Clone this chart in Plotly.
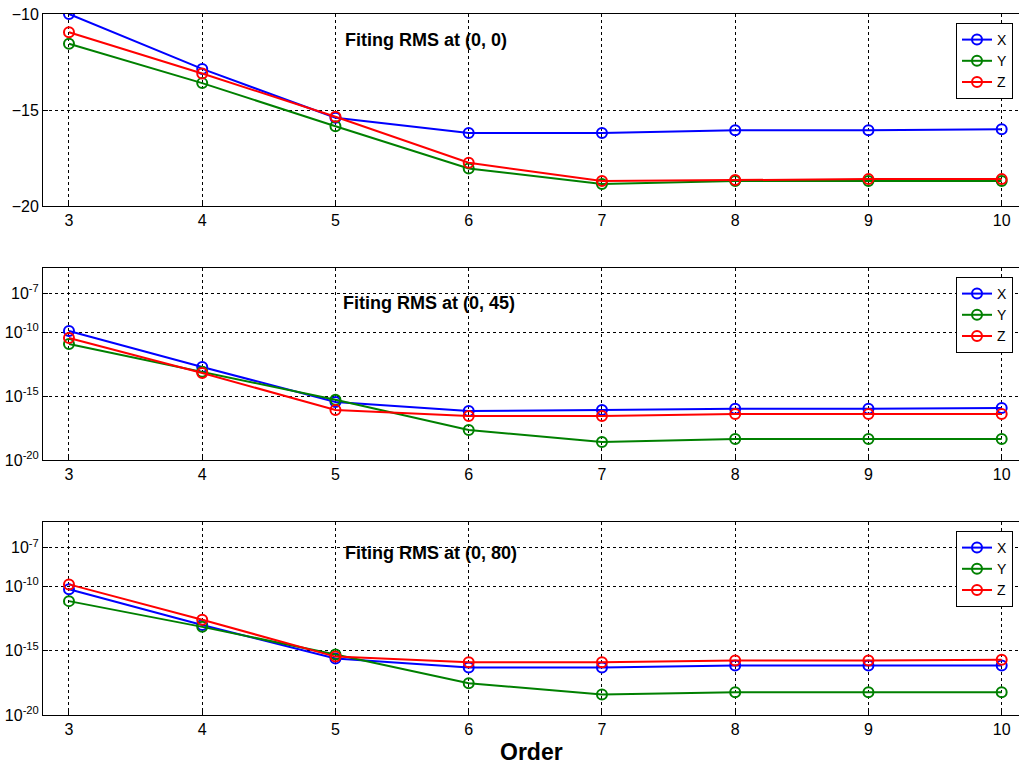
import plotly.graph_objects as go

orders = [3, 4, 5, 6, 7, 8, 9, 10]

# Panel 1 (linear y)
p1_x = [-10.0, -12.86, -15.4, -16.2, -16.2, -16.05, -16.05, -16.0]
p1_y = [-11.55, -13.6, -15.85, -18.05, -18.85, -18.7, -18.7, -18.7]
p1_z = [-10.95, -13.1, -15.35, -17.75, -18.7, -18.65, -18.6, -18.6]

# Panel 2 (log y), exponents of 10
p2_x = [-9.92, -12.73, -15.47, -16.17, -16.1, -16.0, -16.0, -15.94]
p2_y = [-10.94, -13.1, -15.3, -17.66, -18.6, -18.36, -18.36, -18.36]
p2_z = [-10.47, -13.2, -16.1, -16.56, -16.56, -16.4, -16.4, -16.4]

# Panel 3 (log y), exponents of 10
p3_x = [-10.23, -13.0, -15.6, -16.3, -16.3, -16.15, -16.15, -16.15]
p3_y = [-11.15, -13.15, -15.3, -17.54, -18.4, -18.23, -18.23, -18.23]
p3_z = [-9.85, -12.6, -15.46, -15.9, -15.9, -15.77, -15.77, -15.7]

titles = ["Fiting RMS at (0, 0)", "Fiting RMS at (0, 45)", "Fiting RMS at (0, 80)"]
series_names = ["X", "Y", "Z"]
colors = ["#0000ff", "#008000", "#ff0000"]

lin_ticks = [-20, -15, -10]
log_tickvals = [1e-20, 1e-15, 1e-10, 1e-7]
log_ticktext = ["10<sup>-20</sup>", "10<sup>-15</sup>", "10<sup>-10</sup>", "10<sup>-7</sup>"]

W, H = 1019, 766
FONT = "Liberation Sans, Arial, sans-serif"

fig = go.Figure()

panels = [
    (p1_x, p1_y, p1_z, False),
    (p2_x, p2_y, p2_z, True),
    (p3_x, p3_y, p3_z, True),
]
# pixel boxes (top, bottom)
boxes = [(14, 206), (268, 460), (522, 715)]
legend_keys = ["legend", "legend2", "legend3"]

for i, (sx, sy, sz, is_log) in enumerate(panels):
    xa = "x" if i == 0 else f"x{i+1}"
    ya = "y" if i == 0 else f"y{i+1}"
    for name, vals, col in zip(series_names, [sx, sy, sz], colors):
        yv = [10 ** v for v in vals] if is_log else vals
        fig.add_trace(go.Scatter(
            x=orders, y=yv, name=name, mode="lines+markers",
            line=dict(color=col, width=2),
            marker=dict(symbol="circle-open", size=10, color=col, line=dict(width=2, color=col)),
            xaxis=xa, yaxis=ya, legend=legend_keys[i], showlegend=True,
        ))

axis_common = dict(
    showline=True, linecolor="black", linewidth=1, mirror=True,
    ticks="inside", ticklen=5, tickcolor="black",
    showgrid=True, gridcolor="black", gridwidth=1, griddash="3px,3px",
    zeroline=False, tickfont=dict(family=FONT, size=16, color="black"),
    automargin=False,
)

layout = {}
for i in range(3):
    top, bot = boxes[i]
    dom_y = [(H - bot) / H, (H - top) / H]
    xk = "xaxis" if i == 0 else f"xaxis{i+1}"
    yk = "yaxis" if i == 0 else f"yaxis{i+1}"
    ya = "y" if i == 0 else f"y{i+1}"
    xa = "x" if i == 0 else f"x{i+1}"
    layout[xk] = dict(axis_common, domain=[43 / W, 1.0], range=[2.805, 10.13],
                      tickvals=orders, anchor=ya)
    if i == 0:
        layout[yk] = dict(axis_common, domain=dom_y, range=[-20, -10],
                          tickvals=lin_ticks, anchor=xa)
    else:
        layout[yk] = dict(axis_common, domain=dom_y, type="log", range=[-20, -5],
                          tickvals=log_tickvals, ticktext=log_ticktext, anchor=xa)
    layout[legend_keys[i]] = dict(
        x=956 / W, xanchor="left", y=(H - top - 9) / H, yanchor="top",
        bgcolor="white", bordercolor="black", borderwidth=1,
        font=dict(family=FONT, size=14, color="black"),
        tracegroupgap=0, itemwidth=30,
    )

annotations = []
title_pos = [(343, 40), (341, 303), (343, 553)]
for t, (px, py) in zip(titles, title_pos):
    annotations.append(dict(
        text=f"<b>{t}</b>", xref="paper", yref="paper",
        x=px / W, y=1 - py / H, xanchor="left", yanchor="middle",
        showarrow=False, font=dict(family=FONT, size=18, color="black"),
    ))
annotations.append(dict(
    text="<b>Order</b>", xref="paper", yref="paper",
    x=531 / W, y=1 - 752 / H, xanchor="center", yanchor="middle",
    showarrow=False, font=dict(family=FONT, size=23, color="black"),
))

fig.update_layout(
    width=W, height=H,
    margin=dict(l=0, r=0, t=0, b=0),
    paper_bgcolor="white", plot_bgcolor="white",
    annotations=annotations,
    **layout,
)

fig.write_html(
    "out.html",
    config={"displayModeBar": False},
    post_script="document.body.style.margin='0px';document.body.style.overflow='hidden';",
)
